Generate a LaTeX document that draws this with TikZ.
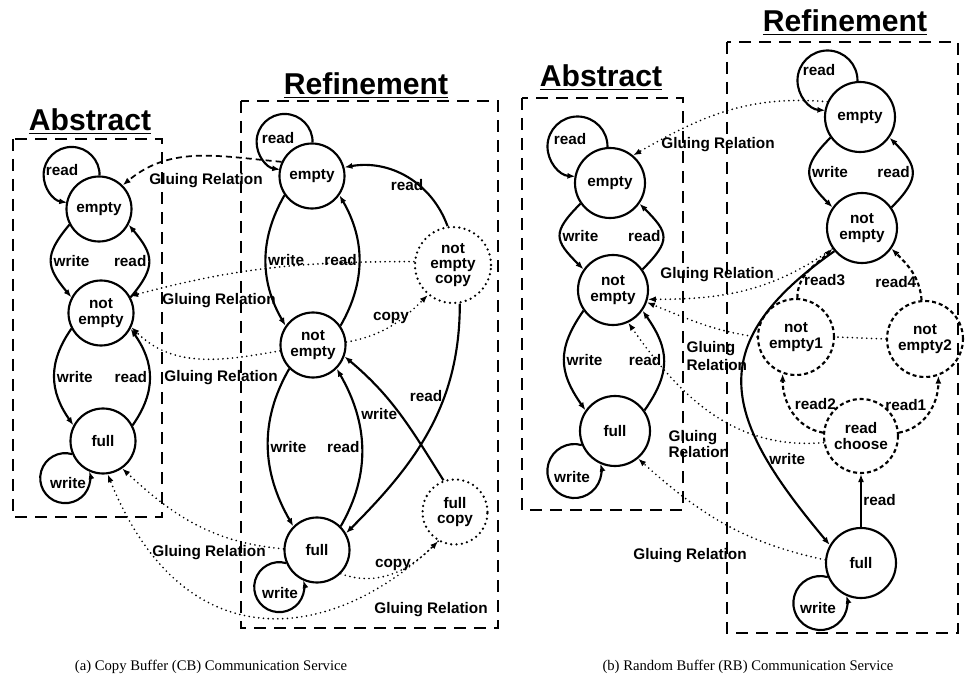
\documentclass[tikz,border=0pt]{standalone}
\usepackage{fontspec}
\setmainfont{Liberation Serif}
\setsansfont{Liberation Sans}
\usepackage{tikz}
\usetikzlibrary{arrows.meta}
\newcommand{\lblfont}{\sffamily\bfseries\fontsize{11.5}{11.5}\selectfont}
\newcommand{\titlefont}{\sffamily\bfseries\fontsize{22.6}{25}\selectfont}

\begin{document}
\begin{tikzpicture}[
    x=0.75pt, y=-0.75pt,
    every node/.style={font=\lblfont, inner sep=1pt},
    >={Latex[length=6pt,width=4.5pt]},
    state/.style={circle, draw, line width=1.6pt, minimum size=48.75pt, inner sep=0pt, align=center},
    bstate/.style={state, minimum size=52.5pt},
    dots/.style={line cap=round, dash pattern=on 0pt off 3.6pt},
    dashes/.style={dash pattern=on 3pt off 2.2pt},
    copystate/.style={state, line width=1.9pt, line cap=round, dash pattern=on 0pt off 4pt},
    choicestate/.style={bstate, minimum size=57pt, dashes},
    tr/.style={->, line width=1.6pt},
    glue/.style={->, line width=1.4pt, dots},
    frame/.style={line width=2.1pt, dash pattern=on 9pt off 6pt},
    title/.style={font=\titlefont, anchor=base, inner sep=0pt},
    captext/.style={font=\rmfamily\fontsize{11}{13}\selectfont}
]
    \useasboundingbox (0,0) rectangle (965,688);

    \draw[frame] (13,139) rectangle (162,517);
    \draw[frame] (241,101) rectangle (498,628);
    \node[title] (aAbsTitle) at (90,131) {\underline{Abstract}};
    \node[title] (aRefTitle) at (366,95) {\underline{Refinement}};

    \node[state] (aEmpty) at (99,209) {empty};
    \node[state] (aNotEmpty) at (101,313) {not\\empty};
    \node[state] (aFull) at (103,441) {full};

    \draw[tr] (aEmpty.89) arc[start angle=359, delta angle=262, radius=21pt];
    \node (aLoopRead) at (62,170) {read};
    \draw[tr] (aFull.203) arc[start angle=74, delta angle=302, radius=18.75pt];
    \node (aLoopWrite) at (68,483) {write};
    \draw[tr] (aEmpty.208) to[out=230,in=130,looseness=1.4] node[right] (aW1) {write} (aNotEmpty.152);
    \draw[tr] (aNotEmpty.28) to[out=50,in=310,looseness=1.4] node[left] (aR1) {read} (aEmpty.332);
    \draw[tr] (aNotEmpty.208) to[out=235,in=125,looseness=1.1] node[right] (aW2) {write} (aFull.152);
    \draw[tr] (aFull.28) to[out=55,in=305,looseness=1.1] node[left] (aR2) {read} (aNotEmpty.332);

    \node[state] (rEmpty) at (312,176) {empty};
    \node[state] (rNotEmpty) at (313,345) {not\\empty};
    \node[state] (rFull) at (317,550) {full};
    \node[copystate, minimum size=57pt] (rNotEmptyCopy) at (453,265) {not\\empty\\copy};
    \node[copystate] (rFullCopy) at (455,512) {full\\copy};

    \draw[tr] (rEmpty.89) arc[start angle=359, delta angle=262, radius=21pt];
    \node (rLoopRead) at (278,138) {read};
    \draw[tr] (rFull.203) arc[start angle=74, delta angle=302, radius=18.75pt];
    \node (rLoopWrite) at (280,593) {write};
    \draw[tr] (rEmpty.215) to[out=240,in=120] node[right] (rW1) {write} (rNotEmpty.145);
    \draw[tr] (rNotEmpty.35) to[out=60,in=300] node[left] (rR1) {read} (rEmpty.325);
    \draw[tr] (rNotEmpty.225) to[out=240,in=120] node[right] (rW2) {write} (rFull.135);
    \draw[tr] (rFull.45) to[out=60,in=300] node[left] (rR2) {read} (rNotEmpty.315);
    \draw[tr] (rNotEmptyCopy.98) to[out=110,in=10] node[below] (rR3) {read} (rEmpty.15);
    \draw[glue] (rNotEmpty.5) to[out=10,in=225] node[above] (rC1) {copy} (rNotEmptyCopy.230);
    \draw[tr] (rNotEmptyCopy.280) to[out=270,in=45] node[pos=0.35,left] (rR4) {read} (rFull.30);
    \draw[tr] (rFullCopy.110) to[out=122,in=320] node[left] (rW3) {write} (rNotEmpty.340);
    \draw[glue] (rFull.315) to[out=340,in=225] node[above] (rC2) {copy} (rFullCopy.240);

    \draw[->, line width=1.3pt, dash pattern=on 4.5pt off 3pt] (rEmpty.155) to[out=175,in=40] (aEmpty.45);
    \node (aG1) at (206,181) {Gluing Relation};
    \draw[glue] (rNotEmptyCopy.175) to[out=180,in=15] (aNotEmpty.30);
    \node (aG2) at (219,301) {Gluing Relation};
    \draw[glue] (rNotEmpty.190) to[out=190,in=315] (aNotEmpty.335);
    \node (aG3) at (221,378) {Gluing Relation};
    \draw[glue] (rFull.178) to[out=175,in=317] (aFull.305);
    \node (aG4) at (209,553) {Gluing Relation};
    \draw[glue] (rFullCopy.240) to[out=225,in=292,out distance=105pt,in distance=157pt] (aFull.278);
    \node (aG5) at (431,610) {Gluing Relation};

    \draw[frame] (522,98) rectangle (683,510);
    \draw[frame] (727,42) rectangle (958,633);
    \node[title] (bAbsTitle) at (601,87) {\underline{Abstract}};
    \node[title] (bRefTitle) at (845,32) {\underline{Refinement}};

    \node[bstate] (bEmpty) at (610,183) {empty};
    \node[bstate] (bNotEmpty) at (613,290) {not\\empty};
    \node[bstate] (bFull) at (615,431) {full};

    \draw[tr] (bEmpty.94) arc[start angle=359, delta angle=267, radius=22.5pt];
    \node (bLoopRead) at (570,139) {read};
    \draw[tr] (bFull.203) arc[start angle=74, delta angle=302, radius=20.25pt];
    \node (bLoopWrite) at (572,477) {write};
    \draw[tr] (bEmpty.215) to[out=225,in=135,looseness=1.6] node[right] (bW1) {write} (bNotEmpty.145);
    \draw[tr] (bNotEmpty.35) to[out=45,in=315,looseness=1.6] node[left] (bR1) {read} (bEmpty.325);
    \draw[tr] (bNotEmpty.215) to[out=235,in=125,looseness=1.2] node[right] (bW2) {write} (bFull.145);
    \draw[tr] (bFull.35) to[out=55,in=305,looseness=1.2] node[left] (bR2) {read} (bNotEmpty.325);

    \node[bstate] (bREmpty) at (860,117) {empty};
    \node[bstate] (bRNotEmpty) at (862,228) {not\\empty};
    \node[choicestate] (bRNe1) at (796,337) {not\\empty1};
    \node[choicestate] (bRNe2) at (925,339) {not\\empty2};
    \node[choicestate, minimum size=55.5pt] (bRChoose) at (861,436) {read\\choose};
    \node[bstate] (bRFull) at (861,563) {full};

    \draw[tr] (bREmpty.94) arc[start angle=359, delta angle=267, radius=22.5pt];
    \node (bRLoopRead) at (819,70) {read};
    \draw[tr] (bRFull.203) arc[start angle=74, delta angle=302, radius=20.25pt];
    \node (bRLoopWrite) at (818,608) {write};
    \draw[tr] (bREmpty.215) to[out=225,in=135,looseness=1.5] node[right] (bRW1) {write} (bRNotEmpty.145);
    \draw[tr] (bRNotEmpty.35) to[out=45,in=315,looseness=1.5] node[left] (bRR1) {read} (bREmpty.325);
    \draw[tr, dashes] (bRChoose.175) to[out=170,in=270] node[above right] (bRR2) {read2} (bRNe1.250);
    \draw[tr, dashes] (bRChoose.5) to[out=10,in=270] node[above left] (bRR1b) {read1} (bRNe2.290);
    \draw[tr, dashes] (bRNe1.88) to[out=90,in=225] node[pos=0.3,right] (bRR3) {read3} (bRNotEmpty.215);
    \draw[tr, dashes] (bRNe2.95) to[out=95,in=315] node[pos=0.3,left,inner sep=0pt] (bRR4) {read4} (bRNotEmpty.325);
    \draw[tr] (bRFull) -- node[right] (bRR5) {read} (bRChoose);
    \draw[tr] (bRNotEmpty.220) to[out=215,in=130,looseness=1.43] node[pos=0.75,right] (bRW2) {write} (bRFull.150);

    \draw[glue] (bREmpty.155) to[out=175,in=30] (bEmpty.50);
    \node (bG1) at (718,145) {Gluing Relation};
    \draw[glue] (bRNotEmpty.215) to[out=215,in=0] (bNotEmpty.345);
    \node (bG2) at (717,275) {Gluing Relation};
    \draw[glue] (bRNe2.180) -- (bRNe1.0) (bRNe1.180) to[out=172,in=338] (bNotEmpty.340);
    \node[align=left, anchor=west] (bG3) at (685,356) {Gluing\\[2pt]Relation};
    \draw[glue] (bRChoose.190) to[out=185,in=305] (bNotEmpty.295);
    \node[align=left, anchor=west] (bG4) at (667,444) {Gluing\\[1pt]Relation};
    \draw[glue] (bRFull.175) to[out=168,in=318] (bFull.310);
    \node (bG5) at (690,556) {Gluing Relation};

    \node[captext] (capA) at (211,667) {(a) Copy Buffer (CB) Communication Service};
    \node[captext] (capB) at (748,667) {(b) Random Buffer (RB) Communication Service};
\end{tikzpicture}
\end{document}
